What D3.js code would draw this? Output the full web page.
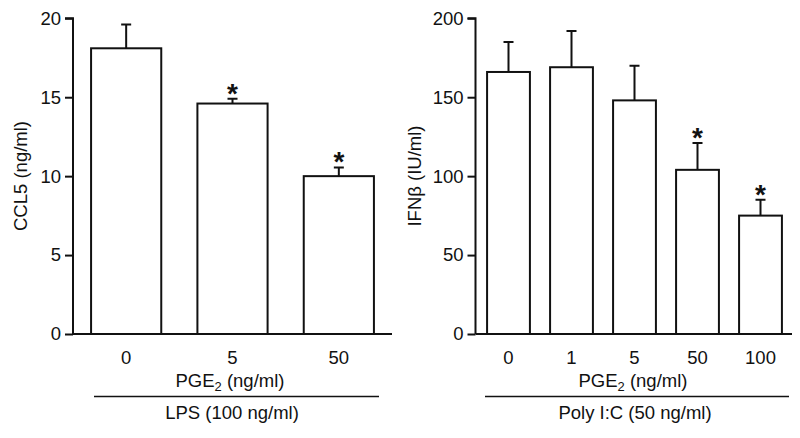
<!DOCTYPE html>
<html><head><meta charset="utf-8">
<script src="https://cdn.jsdelivr.net/npm/d3@7/dist/d3.min.js"></script>
<style>
body{margin:0;background:#fff;}
text{font-family:"Liberation Sans",Arial,sans-serif;fill:#111;}
</style></head>
<body><svg id="c" width="800" height="438"></svg>
<script>
// Panel A: CCL5
const catsA = ["0","5","50"];
const meanA = [18.1, 14.6, 10.0];
const errA  = [19.6, 14.9, 10.55];
const sigA  = [false, true, true];
const ticksA = [0,5,10,15,20];
// Panel B: IFNβ
const catsB = ["0","1","5","50","100"];
const meanB = [166, 169, 148, 104, 75];
const errB  = [185, 192, 170, 121, 85];
const sigB  = [false, false, false, true, true];
const ticksB = [0,50,100,150,200];

const svg = d3.select("#c");
const FS = 18.5;

function panel(o){
  const g = svg.append("g");
  const x = d3.scaleBand().domain(o.cats).range(o.xr).paddingInner(o.pad).paddingOuter(o.pad/2);
  const y = d3.scaleLinear().domain(o.ydom).range([334, 18.3]);
  g.selectAll("rect.bar").data(o.mean).join("rect")
    .attr("x",(d,i)=>x(o.cats[i])).attr("width",x.bandwidth())
    .attr("y",d=>y(d)).attr("height",d=>y(0)-y(d))
    .attr("fill","#fff").attr("stroke","#111").attr("stroke-width",2);
  const cw = 5;
  g.selectAll("path.err").data(o.err).join("path")
    .attr("d",(d,i)=>{const cx=x(o.cats[i])+x.bandwidth()/2;
      return `M${cx},${y(o.mean[i])}V${y(d)}M${cx-cw},${y(d)}H${cx+cw}`;})
    .attr("fill","none").attr("stroke","#111").attr("stroke-width",2);
  g.selectAll("text.sig").data(o.err.map((d,i)=>({d,i})).filter(e=>o.sig[e.i])).join("text")
    .attr("x",e=>x(o.cats[e.i])+x.bandwidth()/2)
    .attr("y",e=>y(e.d)-12+16)
    .attr("text-anchor","middle").attr("font-size",28).attr("font-weight","bold")
    .text("*");
  const ya = g.append("g").attr("transform",`translate(${o.ax},0)`)
    .call(d3.axisLeft(y).tickValues(o.ticks).tickSize(8).tickPadding(4));
  ya.select(".domain").attr("d",`M-8,${y(o.ydom[1])}H0V${y(0)}`).attr("stroke","#111").attr("stroke-width",2);
  ya.selectAll(".tick line").attr("stroke","#111").attr("stroke-width",2);
  ya.selectAll(".tick text").attr("font-size",FS).attr("font-family","Liberation Sans, Arial, sans-serif").attr("fill","#111");
  const xa = g.append("g").attr("transform",`translate(0,${y(0)})`)
    .call(d3.axisBottom(x).tickSize(0).tickPadding(12));
  xa.select(".domain").attr("d",`M${o.ax},0H${o.xr[1]}`).attr("stroke","#111").attr("stroke-width",2);
  xa.selectAll(".tick text").attr("font-size",FS).attr("font-family","Liberation Sans, Arial, sans-serif").attr("fill","#111")
    .attr("dy",null).attr("y",29.5);
  g.append("text").attr("transform",`translate(${o.ytx},176) rotate(-90)`)
    .attr("text-anchor","middle").attr("font-size",FS).text(o.ytitle);
  const t = g.append("text").attr("x",o.ptx).attr("y",386.5).attr("text-anchor","middle").attr("font-size",FS);
  t.append("tspan").text("PGE");
  t.append("tspan").attr("font-size",FS*0.7).attr("dy",4).text("2");
  t.append("tspan").attr("dy",-4).text(" (ng/ml)");
  g.append("line").attr("x1",o.line[0]).attr("x2",o.line[1]).attr("y1",396.5).attr("y2",396.5)
    .attr("stroke","#111").attr("stroke-width",1.5);
  g.append("text").attr("x",o.gtx).attr("y",419).attr("text-anchor","middle").attr("font-size",FS).text(o.group);
}

panel({cats:catsA, mean:meanA, err:errA, sig:sigA, ticks:ticksA, ydom:[0,20],
  xr:[73,392], pad:0.34, ax:73, ytx:27, ytitle:"CCL5 (ng/ml)", ptx:230, line:[94,379], gtx:232, group:"LPS (100 ng/ml)"});
panel({cats:catsB, mean:meanB, err:errB, sig:sigB, ticks:ticksB, ydom:[0,200],
  xr:[477,792], pad:0.32, ax:475.5, ytx:421, ytitle:"IFNβ (IU/ml)", ptx:633, line:[485,789], gtx:635, group:"Poly I:C (50 ng/ml)"});
</script></body></html>
